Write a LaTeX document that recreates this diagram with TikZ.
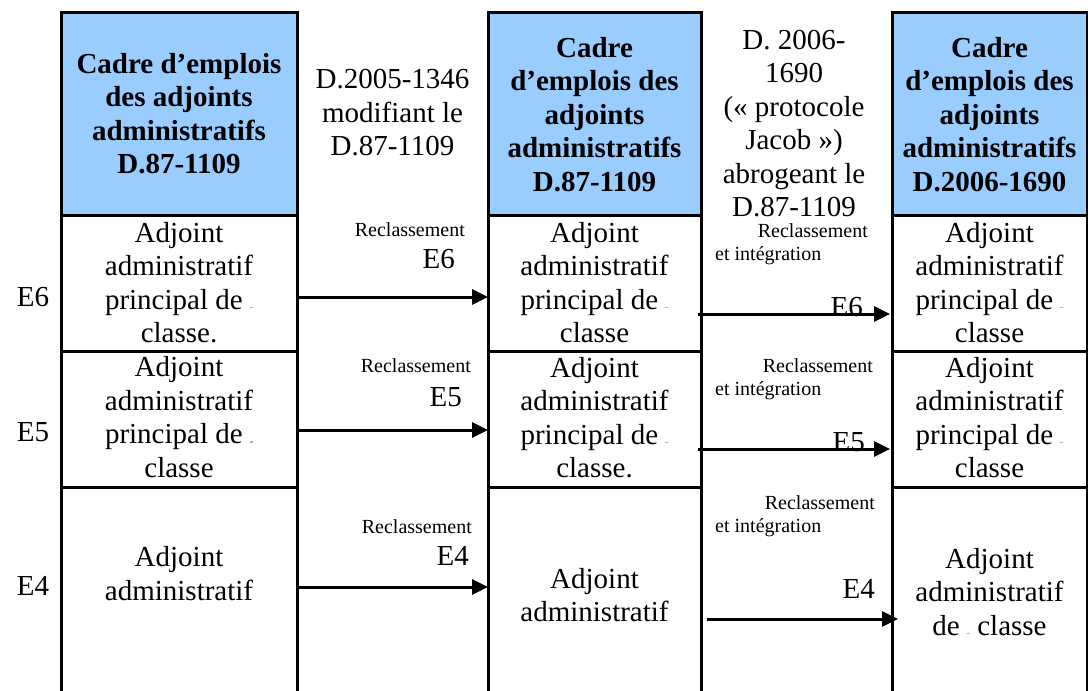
\documentclass[tikz,border=0pt]{standalone}
\usepackage{fontspec}
\setmainfont{Liberation Serif}
\usetikzlibrary{arrows.meta}
\definecolor{hdrblue}{HTML}{99CCFF}
\newcommand{\gmark}{{\color{black!30}\rule[1pt]{3pt}{1.2pt}}}
\begin{document}
\begin{tikzpicture}[x=1pt,y=-1pt,
  cell/.style={draw=black, line width=3pt, inner sep=0pt, outer sep=0pt},
  hdr/.style={cell, fill=hdrblue},
  body/.style={align=center, font=\fontsize{29}{33.5}\selectfont, inner sep=0pt},
  hbody/.style={align=center, font=\fontsize{29}{33.5}\selectfont\bfseries, inner sep=0pt},
  small/.style={font=\fontsize{20}{23}\selectfont, inner sep=0pt},
  big/.style={font=\fontsize{29}{33.5}\selectfont, inner sep=0pt},
  arr/.style={line width=3pt, -{Triangle[length=16pt,width=15pt]}}
]
\useasboundingbox (0,0) rectangle (1088,691);
\clip (0,0) rectangle (1088,691);

% column 1
\node[hdr,  minimum width=236pt, minimum height=203pt] (h1)   at (179,113.5) {};
\node[cell, minimum width=236pt, minimum height=136pt] (c1r1) at (179,283) {};
\node[cell, minimum width=236pt, minimum height=136pt] (c1r2) at (179,419) {};
\node[cell, minimum width=236pt, minimum height=213pt] (c1r3) at (179,593.5) {};
% column 2
\node[hdr,  minimum width=213pt, minimum height=203pt] (h2)   at (594.5,113.5) {};
\node[cell, minimum width=213pt, minimum height=136pt] (c2r1) at (594.5,283) {};
\node[cell, minimum width=213pt, minimum height=136pt] (c2r2) at (594.5,419) {};
\node[cell, minimum width=213pt, minimum height=213pt] (c2r3) at (594.5,593.5) {};
% column 3
\node[hdr,  minimum width=195pt, minimum height=203pt] (h3)   at (989.5,113.5) {};
\node[cell, minimum width=195pt, minimum height=136pt] (c3r1) at (989.5,283) {};
\node[cell, minimum width=195pt, minimum height=136pt] (c3r2) at (989.5,419) {};
\node[cell, minimum width=195pt, minimum height=213pt] (c3r3) at (989.5,593.5) {};

% header texts
\node[hbody] (h1t) at (179,113.5) {Cadre d’emplois\\des adjoints\\administratifs\\D.87-1109};
\node[hbody] (h2t) at (594.5,114.5) {Cadre\\d’emplois des\\adjoints\\administratifs\\D.87-1109};
\node[hbody] (h3t) at (989.5,114.5) {Cadre\\d’emplois des\\adjoints\\administratifs\\D.2006-1690};
\node[body] (m1) at (392.5,113) {D.2005-1346\\modifiant le\\D.87-1109};
\node[body] (m2) at (794,123.5) {D. 2006-\\1690\\(« protocole\\Jacob »)\\abrogeant le\\D.87-1109};

% cell texts
\node[body] (t11) at (179,282.5) {Adjoint\\administratif\\principal de \gmark\\classe.};
\node[body] (t12) at (179,417) {Adjoint\\administratif\\principal de \gmark\\classe};
\node[body] (t13) at (179,573.5) {Adjoint\\administratif};
\node[body] (t21) at (594.5,282.5) {Adjoint\\administratif\\principal de \gmark\\classe};
\node[body] (t22) at (594.5,417.5) {Adjoint\\administratif\\principal de \gmark\\classe.};
\node[body] (t23) at (594.5,595) {Adjoint\\administratif};
\node[body] (t31) at (989.5,282.5) {Adjoint\\administratif\\principal de \gmark\\classe};
\node[body] (t32) at (989.5,417.5) {Adjoint\\administratif\\principal de \gmark\\classe};
\node[body] (t33) at (989.5,592) {Adjoint\\administratif\\de \gmark{} classe};

% row labels
\node[big, anchor=base] (e6) at (33,306) {E6};
\node[big, anchor=base] (e5) at (33,441) {E5};
\node[big, anchor=base] (e4) at (33,595) {E4};

% left arrow labels
\node[small, anchor=base east] (la1) at (465,236) {Reclassement};
\node[big,   anchor=base east] (lb1) at (455,268) {E6};
\node[small, anchor=base east] (la2) at (471,372) {Reclassement};
\node[big,   anchor=base east] (lb2) at (462,406) {E5};
\node[small, anchor=base east] (la3) at (472,533) {Reclassement};
\node[big,   anchor=base east] (lb3) at (469,565) {E4};

% right arrow labels
\node[small, anchor=base east] (ra1) at (868,237) {Reclassement};
\node[small, anchor=base west] (rb1) at (715,260) {et intégration};
\node[big,   anchor=base east] (rc1) at (863,316) {E6};
\node[small, anchor=base east] (ra2) at (873,372) {Reclassement};
\node[small, anchor=base west] (rb2) at (715,395) {et intégration};
\node[big,   anchor=base east] (rc2) at (865,451) {E5};
\node[small, anchor=base east] (ra3) at (875,509) {Reclassement};
\node[small, anchor=base west] (rb3) at (715,532) {et intégration};
\node[big,   anchor=base east] (rc3) at (875,598) {E4};

% arrows
\draw[arr] (c1r1.east |- 0,297) -- (c2r1.west |- 0,297);
\draw[arr] (c1r2.east |- 0,430) -- (c2r2.west |- 0,430);
\draw[arr] (c1r3.east |- 0,587) -- (c2r3.west |- 0,587);
\draw[arr, shorten <=-3pt, shorten >=2pt] (c2r1.east |- 0,314) -- (c3r1.west |- 0,314);
\draw[arr, shorten <=-3pt, shorten >=2pt] (c2r2.east |- 0,449) -- (c3r2.west |- 0,449);
\draw[arr, shorten <=6pt, shorten >=-6pt] (c2r3.east |- 0,619) -- (c3r3.west |- 0,619);
\end{tikzpicture}
\end{document}
